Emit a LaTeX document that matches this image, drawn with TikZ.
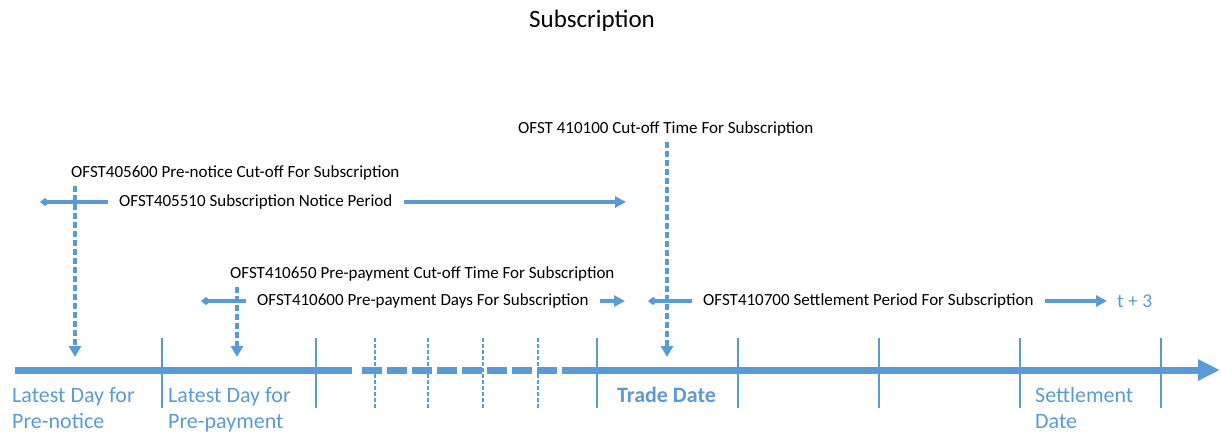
\documentclass[tikz,border=0pt]{standalone}
\usepackage{fontspec}
\setmainfont{Carlito}
\usetikzlibrary{arrows.meta}
\definecolor{tlblue}{HTML}{5B9BD5}
\tikzstyle{timeline} = [draw=tlblue, line width=7pt]
\tikzstyle{daytick} = [draw=tlblue, line width=2.5pt]
\tikzstyle{gaptick} = [draw=tlblue, line width=2.5pt, dash pattern=on 4pt off 2pt]
\tikzstyle{cutoff} = [draw=tlblue, line width=3.5pt, dash pattern=on 6pt off 3pt, shorten <=3pt, -{Triangle[length=11pt,width=12pt]}]
\tikzstyle{period} = [draw=tlblue, line width=3.5pt, -{Triangle[length=11pt,width=11pt]}]
\tikzstyle{periodback} = [draw=tlblue, line width=3.5pt, -{Diamond[length=10pt,width=8pt]}]
\tikzstyle{codelabel} = [font=\fontsize{17}{20}\selectfont, inner sep=3pt, anchor=west]
\tikzstyle{periodlabel} = [codelabel, inner xsep=11pt]
\tikzstyle{daylabel} = [font=\fontsize{22}{26}\selectfont, text=tlblue, align=left, inner sep=0pt, anchor=base west]

\begin{document}
\begin{tikzpicture}[x=1pt, y=-1pt]
    \useasboundingbox (0,0) rectangle (1221,432);
    \node [font=\fontsize{25}{30}\selectfont] at (592,21) (title) {Subscription};

    % cut-off labels and periods
    \node [codelabel] at (515,129) (co410100) {OFST 410100 Cut-off Time For Subscription};
    \node [codelabel] at (68,173) (co405600) {OFST405600 Pre-notice Cut-off For Subscription};
    \node [periodlabel] at (108,202) (np405510) {OFST405510 Subscription Notice Period};
    \node [codelabel] at (227,274) (co410650) {OFST410650 Pre-payment Cut-off Time For Subscription};
    \node [periodlabel] at (246,301) (pp410600) {OFST410600 Pre-payment Days For Subscription};
    \node [periodlabel] at (692,301) (sp410700) {OFST410700 Settlement Period For Subscription};
    \node [daylabel, font=\fontsize{19.5}{22}\selectfont, anchor=west] at (1117,301) (tplus3) {t + 3};

    \coordinate (npL) at (40,202);
    \coordinate (npR) at (626,202);
    \coordinate (ppL) at (201,301);
    \coordinate (ppR) at (625,301);
    \coordinate (spL) at (648,301);
    \coordinate (spR) at (1107,301);

    \draw [periodback] (np405510.west) -- (npL);
    \draw [period] (np405510.east) -- (npR);
    \draw [periodback] (pp410600.west) -- (ppL);
    \draw [period] (pp410600.east) -- (ppR);
    \draw [periodback] (sp410700.west) -- (spL);
    \draw [period] (sp410700.east) -- (spR);

    % time axis
    \coordinate (axL) at (15,370);
    \coordinate (brkA) at (352,370);
    \coordinate (brkB) at (362,370);
    \coordinate (brkC) at (557,370);
    \coordinate (brkD) at (562,370);
    \coordinate (axR) at (1220,370);
    \draw [timeline] (axL) -- (brkA);
    \draw [timeline, dash pattern=on 20pt off 5pt] (brkB) -- (brkC);
    \draw [timeline, -{Triangle[length=22pt,width=20pt]}] (brkD) -- (axR);

    \draw [daytick] (162,338) -- (162,408);
    \draw [daytick] (316,338) -- (316,408);
    \draw [gaptick] (375,338) -- (375,408);
    \draw [gaptick] (428,338) -- (428,408);
    \draw [gaptick] (483,338) -- (483,408);
    \draw [gaptick] (538,338) -- (538,408);
    \draw [daytick] (597,338) -- (597,408);
    \draw [daytick] (738,338) -- (738,408);
    \draw [daytick] (879,338) -- (879,408);
    \draw [daytick] (1020,338) -- (1020,408);
    \draw [daytick] (1161,338) -- (1161,408);

    % cut-off arrows down to the axis
    \coordinate (tipA) at (75,357);
    \coordinate (tipB) at (237,357);
    \coordinate (tipC) at (667,357);
    \draw [cutoff] (tipA |- co405600.south) -- (tipA);
    \draw [cutoff] (tipB |- co410650.south) -- (tipB);
    \draw [cutoff] (tipC |- co410100.south) -- (tipC);

    % day labels
    \node [daylabel] at (12,428) (preNotice) {Latest Day for\\Pre-notice};
    \node [daylabel] at (168,428) (prePay) {Latest Day for\\Pre-payment};
    \node [daylabel, font=\fontsize{22}{26}\selectfont\bfseries] at (617,402) (trade) {Trade Date};
    \node [daylabel] at (1035,428) (settle) {Settlement\\Date};
\end{tikzpicture}
\end{document}
